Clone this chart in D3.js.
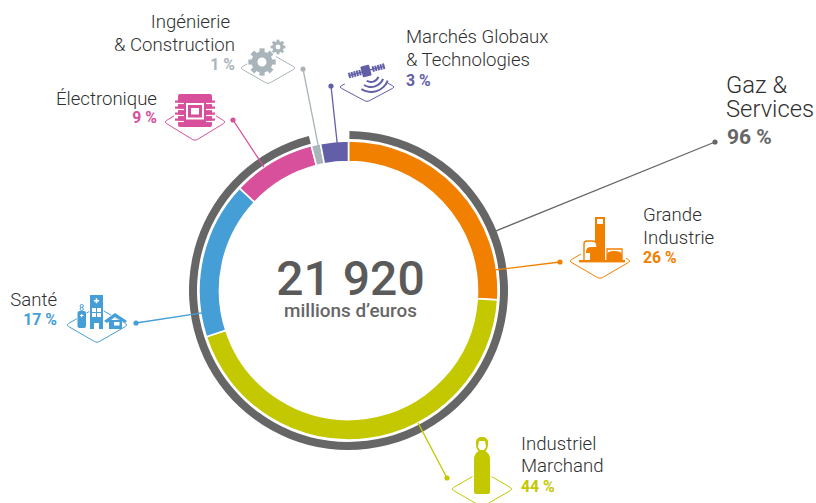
<!DOCTYPE html>
<html><head><meta charset="utf-8">
<script src="https://cdn.jsdelivr.net/npm/d3@7"></script>
<style>html,body{margin:0;background:#fff}svg{display:block}text{font-family:Roboto,sans-serif}</style>
</head><body><svg id="c" width="816" height="503"></svg>
<script>
const categories=["Grande Industrie","Industriel Marchand","Santé","Électronique","Ingénierie & Construction","Marchés Globaux & Technologies"];
const values=[26,44,17,9,1,3];
const colors=["#f28000","#c4c800","#459ed5","#d84f9b","#a9b5bb","#625fa8"];
const gasShare=[96,4];
const total="21 920";
const unit="millions d’euros";

const svg=d3.select("#c");
const cx=348.5,cy=290.5;
const g=svg.append("g").attr("transform",`translate(${cx},${cy})`);
const pie=d3.pie().sort(null).value(d=>d);
const ring=d3.arc().innerRadius(129).outerRadius(149.5);
const outer=d3.arc().innerRadius(151.5).outerRadius(159.5);
const pol=(deg,r)=>{const a=deg*Math.PI/180;return[cx+r*Math.sin(a),cy-r*Math.cos(a)]};

// outer gas ring
g.append("path").attr("d",outer.startAngle(0.006).endAngle(pie(gasShare)[0].endAngle)()).attr("fill","#666");
// main ring
g.selectAll(".s").data(pie(values)).join("path").attr("class","s")
 .attr("d",d=>ring(d)).attr("fill",(d,i)=>colors[i]).attr("stroke","#fff").attr("stroke-width",1.6);

function leader(col,ang,r,end){
 const p=pol(ang,r);
 svg.append("line").attr("x1",p[0]).attr("y1",p[1]).attr("x2",end[0]).attr("y2",end[1]).attr("stroke",col).attr("stroke-width",1.3);
 svg.append("circle").attr("cx",end[0]).attr("cy",end[1]).attr("r",2.6).attr("fill",col);
}
leader("#666",68,159,[715,142]);
leader(colors[0],82,148,[560,262]);
leader(colors[1],152.3,149.5,[447,478]);
leader(colors[2],261.3,148,[136,323]);
leader(colors[3],325.6,149.5,[233,120]);
leader(colors[4],348.2,147,[303,69]);
leader(colors[5],355.6,148,[331,86]);

function diamond(x,y,w,h,col){
 const r=0.08;
 const pts=[[x-w,y],[x,y-h],[x+w,y],[x,y+h]];
 let d="";
 pts.forEach((p,i)=>{const n=pts[(i+1)%4],q=pts[(i+3)%4];
  const a=[p[0]+(q[0]-p[0])*r,p[1]+(q[1]-p[1])*r],b=[p[0]+(n[0]-p[0])*r,p[1]+(n[1]-p[1])*r];
  d+=(i?"L":"M")+a+"Q"+p+" "+b;});
 svg.append("path").attr("d",d+"Z").attr("fill","#fff").attr("stroke",col).attr("stroke-width",1);
}
diamond(600,261,31,18,colors[0]);
diamond(482,489,31,18,colors[1]);
diamond(97,325,31,18,colors[2]);
diamond(195,122,31,19,colors[3]);
diamond(268,68,28,16,colors[4]);
diamond(367,87,28,15,colors[5]);

// icon helpers
const icon=(x,y,col)=>svg.append("g").attr("transform",`translate(${x},${y})`).attr("fill",col);
const rect=(p,x,y,w,h,f)=>p.append("rect").attr("x",x).attr("y",y).attr("width",w).attr("height",h).attr("fill",f||null);
function gear(p,x,y,r,col,teeth){
 const t=p.append("g").attr("transform",`translate(${x},${y})`);
 t.append("circle").attr("r",r*1.15).attr("fill","#fff");
 d3.range(teeth).forEach(i=>t.append("rect").attr("x",-r*.2).attr("y",-r*1.05).attr("width",r*.4).attr("height",r*.5).attr("transform",`rotate(${i*360/teeth})`).attr("fill",col));
 t.append("circle").attr("r",r*.58).attr("fill","none").attr("stroke",col).attr("stroke-width",r*.46);
}
// Grande Industrie
{const c=colors[0],p=icon(0,0,c);
 p.append("path").attr("d","M581 238H626V262H581Z").attr("fill","#fff");
 rect(p,595,217,10,44);
 rect(p,597,219,6,5,"#fff");
 rect(p,579,260,46,2.4);
 p.append("path").attr("d","M584 260V244Q584 241 587 241H592Q597 241 597 246V260").attr("fill","#fff").attr("stroke",c).attr("stroke-width",1.4);
 p.append("path").attr("d","M586 260V252Q586 247 591 247H597V260Z");
 rect(p,586,253,4,7,"#fff");
 p.append("path").attr("d","M607 260V249H622V260").attr("fill","#fff").attr("stroke",c).attr("stroke-width",1.3);
 p.append("path").attr("d","M607 260V255Q607 251 614 251Q622 251 622 255V260Z");
}
// Industriel Marchand: bottle
{const c=colors[1],p=icon(0,0,c);
 p.append("path").attr("d","M480 437Q475 439 476 444Q476 449 478.5 451Q474 454 474 459V492Q474 494 476 494H488Q490 494 490 492V459Q490 454 485.5 451Q488 449 488 444Q489 439 484 437Z").attr("stroke","#fff").attr("stroke-width",3).attr("paint-order","stroke");
 p.append("path").attr("d","M479 441H485L486 447L484 450H480L478 447Z").attr("fill","#fff");
}
// Santé
{const c=colors[2],p=icon(0,0,c);
 rect(p,90,295,13,34).attr("stroke","#fff").attr("stroke-width",1.5).attr("paint-order","stroke");
 rect(p,94,300,5,1.6,"#fff");rect(p,95.7,298.3,1.6,5,"#fff");
 [[92,308],[97,308],[92,313],[97,313]].forEach(q=>rect(p,q[0],q[1],4,4,"#fff"));
 rect(p,94,323,5,6,"#fff");
 p.append("rect").attr("x",77.5).attr("y",311).attr("width",8.5).attr("height",17).attr("rx",2).attr("stroke","#fff").attr("stroke-width",1.2).attr("paint-order","stroke");
 p.append("circle").attr("cx",81.7).attr("cy",306).attr("r",1.6).attr("fill","none").attr("stroke",c).attr("stroke-width",1);
 p.append("circle").attr("cx",81.7).attr("cy",309).attr("r",1.6).attr("fill","none").attr("stroke",c).attr("stroke-width",1);
 rect(p,80,315,3.4,1,"#fff");rect(p,81.2,314,1,3.4,"#fff");
 p.append("path").attr("d","M104 321L115 313L127 321L125 323L115 317L107 323Z").attr("stroke","#fff").attr("stroke-width",1).attr("paint-order","stroke");
 rect(p,109,320,13,9);rect(p,114,322,5.5,3.5,"#fff");
}
// Électronique: chip
{const c=colors[3],p=icon(0,0,c);
 p.append("rect").attr("x",174).attr("y",94).attr("width",42).attr("height",33).attr("fill","#fff");
 p.append("rect").attr("x",178).attr("y",94).attr("width",34).attr("height",33).attr("rx",2);
 d3.range(4).forEach(i=>{
  rect(p,175,100.5+i*6,10,2.2);rect(p,205,100.5+i*6,10,2.2);
  rect(p,178,103+i*6-.1,6,1.2,"#fff");rect(p,206,103+i*6-.1,6,1.2,"#fff");
 });
 rect(p,186,103,18,16.5,"#fff");rect(p,188,105,14,12.5);rect(p,191,108,8,6.5,"#fff");
}
// Ingénierie: gears
{const c=colors[4],p=icon(0,0,c);
 gear(p,262,62,13,c,8);
 gear(p,278,47,7,c,8);
}
// Marchés globaux: satellite
{const c=colors[5],p=icon(0,0,c);
 p.append("ellipse").attr("cx",366).attr("cy",78).attr("rx",23).attr("ry",15).attr("fill","#fff");
 const s=p.append("g").attr("transform","translate(366,71) rotate(-15)");
 s.append("rect").attr("x",-4.5).attr("y",-5.5).attr("width",9).attr("height",11).attr("rx",1);
 d3.range(5).forEach(i=>{rect(s,-18+i*2.7,-2.8,2,5.6);rect(s,6.5+i*2.7,-2.8,2,5.6);});
 rect(s,-18,-.6,36,1.2);
 [7,12,17].forEach(r=>p.append("path").attr("d",d3.arc().innerRadius(r).outerRadius(r+2).startAngle(Math.PI*.62).endAngle(Math.PI*1.18)()).attr("transform","translate(371,74)"));
}

// labels
function t(x,y,s,o){
 o=o||{};
 svg.append("text").attr("x",x).attr("y",y).text(s)
  .attr("text-anchor",o.a||"start").attr("font-size",o.s||18.6).attr("font-weight",o.w||300)
  .attr("fill",o.c||"#2f2f2f");
}
const pct=(x,y,i,a)=>t(x,y,values[i]+" %",{a:a,s:15.8,w:700,c:colors[i]});
t(726,93,"Gaz &",{s:23.8});t(726,117,"Services",{s:23.8});
t(727,144,gasShare[0]+" %",{s:21,w:700,c:"#666"});
t(643,221,"Grande");t(643,243.5,"Industrie");pct(643,263,0);
t(521,450,"Industriel");t(521,472,"Marchand");pct(521,492,1);
t(57,306,"Santé",{a:"end"});pct(57,325,2,"end");
t(157,104.5,"Électronique",{a:"end"});pct(157,123,3,"end");
t(230,27.5,"Ingénierie",{a:"end"});t(235,50.5,"& Construction",{a:"end"});pct(235,70,4,"end");
t(406,43,"Marchés Globaux");t(406,65.5,"& Technologies");pct(406,86,5);
t(350.5,295,total,{a:"middle",s:48,w:500,c:"#5a5a5a"});
t(350.5,316.5,unit,{a:"middle",s:18.9,w:500,c:"#666"});
</script></body></html>
